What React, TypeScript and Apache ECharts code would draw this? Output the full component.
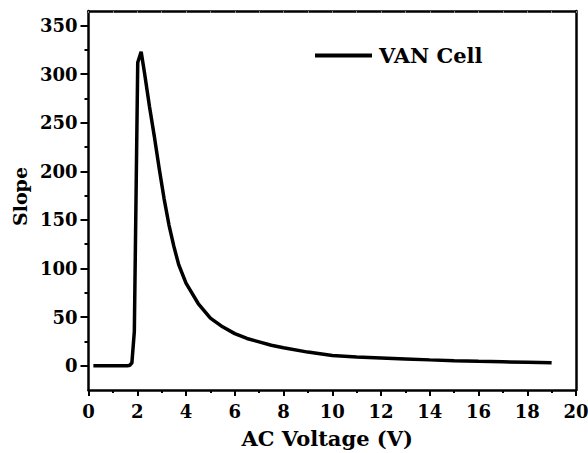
import React, { useEffect, useRef } from "react";
import * as echarts from "echarts";

const voltage = [0.2, 0.4, 0.6, 0.8, 1.0, 1.2, 1.4, 1.6, 1.7, 1.78, 1.88, 2.02, 2.16, 2.3, 2.5, 2.7, 2.9, 3.1, 3.3, 3.5, 3.7, 4.0, 4.5, 5, 5.5, 6, 6.5, 7, 7.5, 8, 9, 10, 11, 12, 13, 14, 15, 16, 17, 18, 19];
const slope = [0, 0, 0, 0, 0, 0, 0, 0, 0.5, 3, 35, 312, 323, 301, 267, 236, 203, 172, 145, 123, 104, 85, 64, 49, 40, 33, 28, 24.5, 21, 18.5, 14, 10.5, 9, 8, 7, 6, 5.2, 4.5, 4, 3.5, 3];
const yMajorTicks = [0, 50, 100, 150, 200, 250, 300, 350];
const yMinorTicks = [25, 75, 125, 175, 225, 275, 325];
const seriesName = "VAN Cell";
const xTitle = "AC Voltage (V)";
const yTitle = "Slope";

const FONT = "DejaVu Serif";

export default function App() {
  const ref = useRef<HTMLDivElement>(null);
  useEffect(() => {
    const chart = echarts.init(ref.current!, null, { renderer: "svg" });
    const data = voltage.map((v, i) => [v, slope[i]]);
    chart.setOption({
      animation: false,
      backgroundColor: "#ffffff",
      textStyle: { fontFamily: FONT },
      grid: { left: 88.5, right: 12, top: 11, bottom: 63, containLabel: false, outerBoundsMode: "none" },
      legend: {
        show: true,
        left: 315,
        top: 45,
        padding: 0,
        itemWidth: 57,
        itemHeight: 4,
        itemGap: 0,
        icon: "rect",
        textStyle: { fontFamily: FONT, fontWeight: "bold", fontSize: 21, color: "#000", padding: [0, 0, 0, 2] },
        data: [{ name: seriesName, icon: "rect", itemStyle: { color: "#000" } }],
      },
      xAxis: [
        {
          type: "value",
          position: "bottom",
          min: 0,
          max: 20,
          interval: 2,
          name: xTitle,
          nameLocation: "middle",
          nameGap: 38,
          nameTextStyle: { fontFamily: FONT, fontWeight: "bold", fontSize: 21, color: "#000", padding: [0, 10, 0, 0] },
          axisLine: { show: true, onZero: false, lineStyle: { color: "#000", width: 2.5 } },
          axisTick: { show: true, inside: false, length: 6, lineStyle: { color: "#000", width: 2 } },
          minorTick: { show: true, splitNumber: 2, length: 3, lineStyle: { color: "#000", width: 2 } },
          axisLabel: { fontFamily: FONT, fontWeight: "bold", fontSize: 18, color: "#000", margin: 12 },
          splitLine: { show: false },
        },
        {
          type: "value",
          position: "top",
          min: 0,
          max: 20,
          interval: 1,
          axisLine: { show: true, onZero: false, lineStyle: { color: "#000", width: 2.5 } },
          axisTick: { show: true, inside: true, length: 2, lineStyle: { color: "#888", width: 1 } },
          axisLabel: { show: false },
          splitLine: { show: false },
        },
      ],
      yAxis: [
        {
          type: "value",
          position: "left",
          min: -25,
          max: 365,
          name: yTitle,
          nameLocation: "middle",
          nameGap: 57,
          nameRotate: 90,
          nameTextStyle: { fontFamily: FONT, fontWeight: "bold", fontSize: 19, color: "#000", padding: [0, 0, 0, 8] },
          axisLine: { show: true, onZero: false, lineStyle: { color: "#000", width: 2.5 } },
          axisTick: { show: true, inside: false, length: 8, customValues: yMajorTicks, lineStyle: { color: "#000", width: 2 } },
          axisLabel: { fontFamily: FONT, fontWeight: "bold", fontSize: 18, color: "#000", margin: 11, customValues: yMajorTicks },
          splitLine: { show: false },
        },
        {
          type: "value",
          position: "left",
          min: -25,
          max: 365,
          axisLine: { show: false, onZero: false },
          axisTick: { show: true, inside: false, length: 4, customValues: yMinorTicks, lineStyle: { color: "#000", width: 2 } },
          axisLabel: { show: false, customValues: yMinorTicks },
          splitLine: { show: false },
        },
        {
          type: "value",
          position: "right",
          min: -25,
          max: 365,
          axisLine: { show: true, onZero: false, lineStyle: { color: "#000", width: 2.5 } },
          axisTick: { show: false },
          axisLabel: { show: false },
          splitLine: { show: false },
        },
      ],
      series: [
        {
          name: seriesName,
          type: "line",
          xAxisIndex: 0,
          yAxisIndex: 0,
          data,
          showSymbol: false,
          symbol: "none",
          smooth: false,
          lineStyle: { color: "#000", width: 3.5 },
          itemStyle: { color: "#000" },
        },
      ],
    });
    return () => chart.dispose();
  }, []);
  return (
    <div
      ref={ref}
      style={{ position: "absolute", left: 0, top: 0, width: 588, height: 453, background: "#fff" }}
    />
  );
}
